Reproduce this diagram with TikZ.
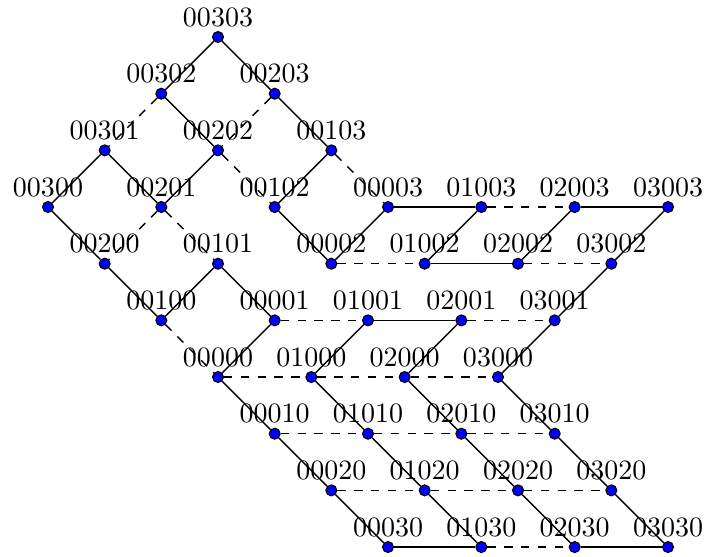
\documentclass[tikz,border=0pt]{standalone}
\begin{document}
\begin{tikzpicture}[x=20.23pt,y=-20.23pt,
  dot/.style={circle,fill=blue,draw=black,line width=0.4pt,inner sep=0pt,minimum size=3.9pt},
  lab/.style={inner sep=0pt},
  sol/.style={draw=black,line width=0.5pt},
  das/.style={draw=black,line width=0.5pt,dashed}]
\useasboundingbox (-0.847,-0.653) rectangle (11.576,9.159);
\newcommand\dotnode[3]{\node[dot] (n#1) at (#2,#3) {}; \node[lab] (l#1) at (#2,#3-0.353) {#1};}
\def\h{1.647}
% top diamond
\dotnode{00303}{3}{0}
\dotnode{00302}{2}{1}
\dotnode{00203}{4}{1}
\dotnode{00301}{1}{2}
\dotnode{00202}{3}{2}
\dotnode{00103}{5}{2}
\dotnode{00300}{0}{3}
\dotnode{00201}{2}{3}
\dotnode{00102}{4}{3}
\dotnode{00003}{6}{3}
\dotnode{01003}{6+\h}{3}
\dotnode{02003}{6+2*\h}{3}
\dotnode{03003}{6+3*\h}{3}
\dotnode{00200}{1}{4}
\dotnode{00101}{3}{4}
\dotnode{00002}{5}{4}
\dotnode{01002}{5+\h}{4}
\dotnode{02002}{5+2*\h}{4}
\dotnode{03002}{5+3*\h}{4}
\dotnode{00100}{2}{5}
\dotnode{00001}{4}{5}
\dotnode{01001}{4+\h}{5}
\dotnode{02001}{4+2*\h}{5}
\dotnode{03001}{4+3*\h}{5}
\dotnode{00000}{3}{6}
\dotnode{01000}{3+\h}{6}
\dotnode{02000}{3+2*\h}{6}
\dotnode{03000}{3+3*\h}{6}
\dotnode{00010}{4}{7}
\dotnode{01010}{4+\h}{7}
\dotnode{02010}{4+2*\h}{7}
\dotnode{03010}{4+3*\h}{7}
\dotnode{00020}{5}{8}
\dotnode{01020}{5+\h}{8}
\dotnode{02020}{5+2*\h}{8}
\dotnode{03020}{5+3*\h}{8}
\dotnode{00030}{6}{9}
\dotnode{01030}{6+\h}{9}
\dotnode{02030}{6+2*\h}{9}
\dotnode{03030}{6+3*\h}{9}
% solid edges
\foreach \a/\b in {00303/00302,00303/00203,00302/00202,00203/00103,
  00301/00300,00301/00201,00202/00201,00103/00102,00300/00200,00102/00002,
  00003/00002,00200/00100,00101/00100,00101/00001,00001/00000,
  00003/01003,02003/03003,01002/02002,01003/01002,02003/02002,03003/03002,
  01001/02001,03002/03001,01001/01000,02001/02000,03001/03000,
  00000/00010,01000/01010,02000/02010,03000/03010,
  00010/00020,01010/01020,02010/02020,03010/03020,
  00020/00030,01020/01030,02020/02030,03020/03030,
  00030/01030,02030/03030}
  \path[sol] (n\a) -- (n\b);
% dashed edges
\foreach \a/\b in {00302/00301,00203/00202,00202/00102,00103/00003,
  00201/00200,00201/00101,00100/00000,
  01003/02003,00002/01002,02002/03002,00001/01001,02001/03001,
  00000/01000,01000/02000,02000/03000,
  00010/01010,01010/02010,02010/03010,
  00020/01020,01020/02020,02020/03020,
  01030/02030}
  \path[das] (n\a) -- (n\b);
\end{tikzpicture}
\end{document}
